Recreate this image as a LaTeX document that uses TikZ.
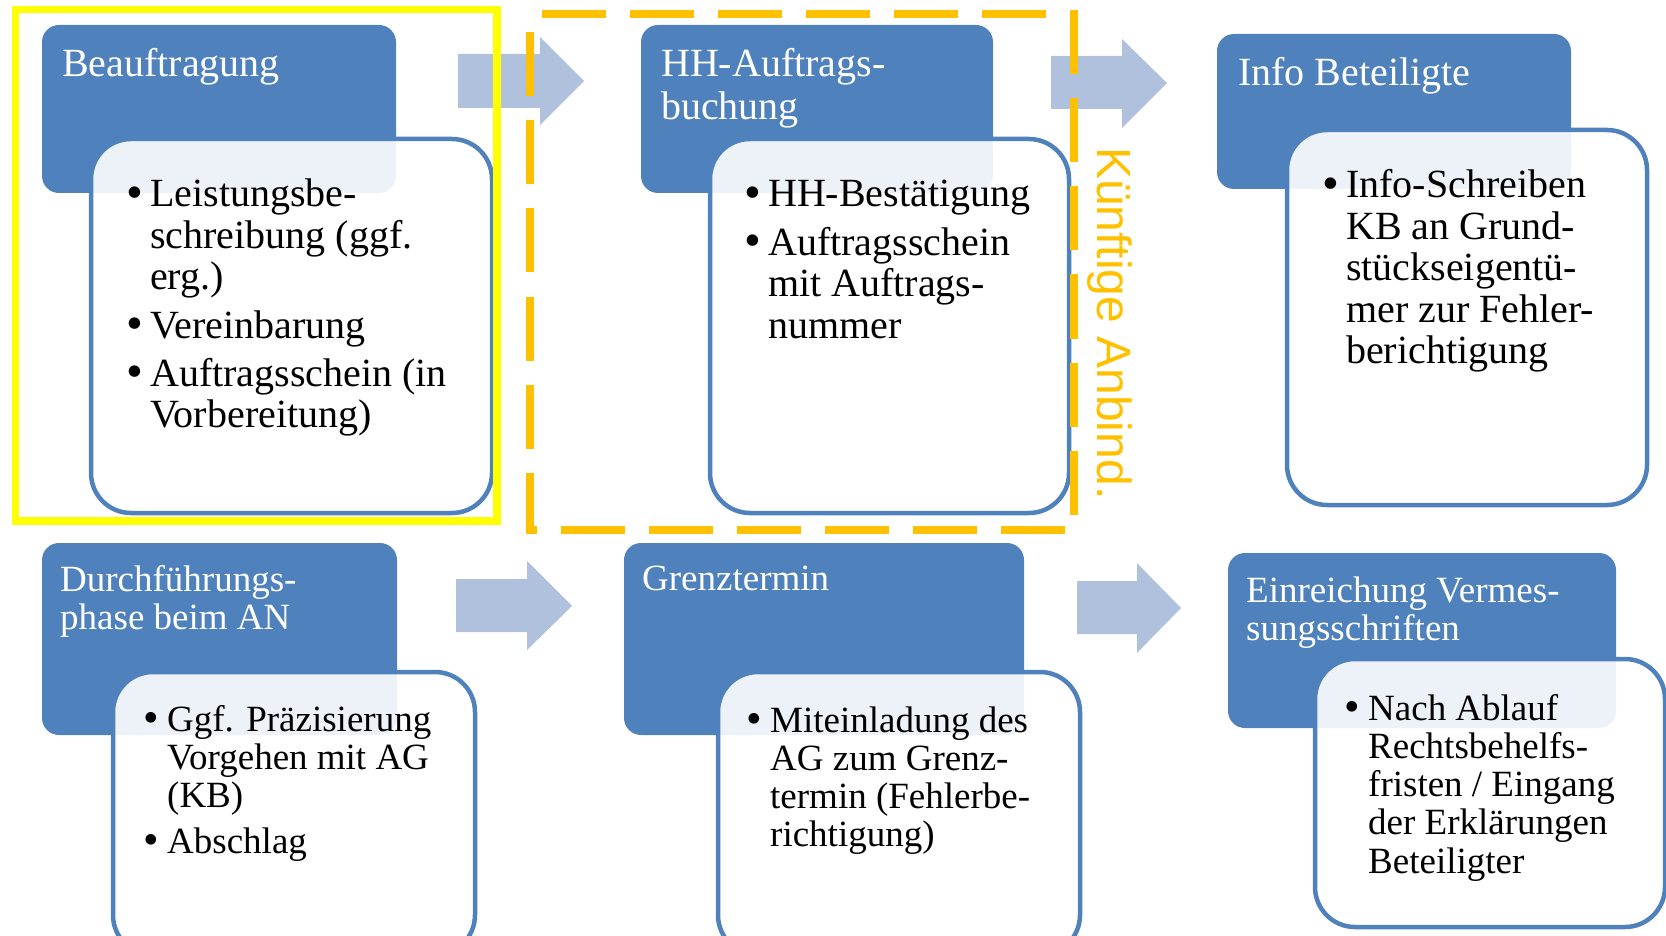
\documentclass[tikz,border=0pt]{standalone}
\usepackage{fontspec}
\setmainfont{Liberation Serif}
\newfontfamily\labelsans{Liberation Sans}

\definecolor{accent}{RGB}{79,129,189}
\definecolor{arrowblue}{RGB}{176,193,221}
\definecolor{markyellow}{RGB}{255,255,0}
\definecolor{markorange}{RGB}{255,192,0}

% bullet with fixed hanging indent
\newcommand{\bitem}{\makebox[18pt][l]{\hspace{-6pt}\raisebox{-1.5pt}{\scalebox{1.2}{\textbullet}}}}

\tikzset{
  stage/.style={fill=accent, rounded corners=17pt, anchor=north west,
                inner sep=0pt, outer sep=0pt},
  detail/.style={draw=accent, line width=4.5pt, fill=white, fill opacity=0.9,
                 rounded corners=40pt, anchor=north west, inner sep=0pt, outer sep=0pt},
  flowarrow/.style={fill=arrowblue},
  titleA/.style={anchor=base west, inner sep=0pt, text=white,
                 font=\fontsize{40}{43}\selectfont},
  titleB/.style={anchor=base west, inner sep=0pt, text=white,
                 font=\fontsize{37}{38.5}\selectfont},
  bodyA/.style={anchor=base west, inner sep=0pt, text=black,
                font=\fontsize{40}{41.5}\selectfont},
  bodyB/.style={anchor=base west, inner sep=0pt, text=black,
                font=\fontsize{37}{38.3}\selectfont},
}

\begin{document}
\begin{tikzpicture}[x=1pt,y=-1pt]
\useasboundingbox (0,0) rectangle (1666,936);
\clip (0,0) rectangle (1666,936);

% block arrows between the stages
\fill[flowarrow] (458,54) -- (540,54) -- (540,37) -- (584,81) -- (540,125) -- (540,108) -- (458,108) -- cycle;
\fill[flowarrow] (1051,56) -- (1122,56) -- (1122,39) -- (1167,83) -- (1122,128) -- (1122,109) -- (1051,109) -- cycle;
\fill[flowarrow] (456,579) -- (527,579) -- (527,561) -- (572,606) -- (527,650) -- (527,632) -- (456,632) -- cycle;
\fill[flowarrow] (1077,581) -- (1137,581) -- (1137,563) -- (1181,608) -- (1137,653) -- (1137,634) -- (1077,634) -- cycle;

% stage 1: Beauftragung
\node[stage, minimum width=354pt, minimum height=168pt] (s1) at (42,25) {};
\node[titleA] (h1) at (62,77) {Beauftragung};
\node[detail, minimum width=401pt, minimum height=374pt] (d1) at (91,139) {};
\node[bodyA] (t1) at (132,207) {\begin{tabular}[t]{@{}l@{}l@{}}
\bitem & Leistungsbe-\\
       & schreibung (ggf.\\
       & erg.)\\[7pt]
\bitem & Vereinbarung\\[6.5pt]
\bitem & Auftragsschein (in\\
       & Vorbereitung)
\end{tabular}};

% stage 2: HH-Auftragsbuchung
\node[stage, minimum width=352pt, minimum height=168pt] (s2) at (641,25) {};
\node[titleA] (h2) at (661,76.5) {\begin{tabular}[t]{@{}l@{}}HH-Auftrags-\\ buchung\end{tabular}};
\node[detail, minimum width=359pt, minimum height=374pt] (d2) at (710,139) {};
\node[bodyA] (t2) at (750,207) {\begin{tabular}[t]{@{}l@{}l@{}}
\bitem & HH-Best\"atigung\\[7pt]
\bitem & Auftragsschein\\
       & mit Auftrags-\\
       & nummer
\end{tabular}};

% stage 3: Info Beteiligte
\node[stage, minimum width=354pt, minimum height=155pt] (s3) at (1217,34) {};
\node[titleA] (h3) at (1238,86) {Info Beteiligte};
\node[detail, minimum width=360pt, minimum height=375pt] (d3) at (1287,130) {};
\node[bodyA] (t3) at (1328,198) {\begin{tabular}[t]{@{}l@{}l@{}}
\bitem & Info-Schreiben\\
       & KB an Grund-\\
       & st\"uckseigent\"u-\\
       & mer zur Fehler-\\
       & berichtigung
\end{tabular}};

% stage 4: Durchfuehrungsphase
\node[stage, minimum width=355pt, minimum height=192pt] (s4) at (42,543) {};
\node[titleB] (h4) at (60,591) {\begin{tabular}[t]{@{}l@{}}Durchf\"uhrungs-\\ phase beim AN\end{tabular}};
\node[detail, minimum width=362pt, minimum height=283pt] (d4) at (113,672) {};
\node[bodyB] (t4) at (149,731) {\begin{tabular}[t]{@{}l@{}l@{}}
\bitem & Ggf. Pr\"azisierung\\
       & Vorgehen mit AG\\
       & (KB)\\[7.5pt]
\bitem & Abschlag
\end{tabular}};

% stage 5: Grenztermin
\node[stage, minimum width=400pt, minimum height=192pt] (s5) at (624,543) {};
\node[titleB] (h5) at (642,590) {Grenztermin};
\node[detail, minimum width=362pt, minimum height=283pt] (d5) at (718,672) {};
\node[bodyB] (t5) at (752,732) {\begin{tabular}[t]{@{}l@{}l@{}}
\bitem & Miteinladung des\\
       & AG zum Grenz-\\
       & termin (Fehlerbe-\\
       & richtigung)
\end{tabular}};

% stage 6: Einreichung Vermessungsschriften
\node[stage, minimum width=388pt, minimum height=175pt] (s6) at (1228,553) {};
\node[titleB] (h6) at (1246,602) {\begin{tabular}[t]{@{}l@{}}Einreichung Vermes-\\ sungsschriften\end{tabular}};
\node[detail, minimum width=350pt, minimum height=268pt] (d6) at (1315,659) {};
\node[bodyB] (t6) at (1350,720) {\begin{tabular}[t]{@{}l@{}l@{}}
\bitem & Nach Ablauf\\
       & Rechtsbehelfs-\\
       & fristen / Eingang\\
       & der Erkl\"arungen\\
       & Beteiligter
\end{tabular}};

% highlight frames
\draw[markyellow, line width=7.5pt] (15.5,9.5) rectangle (497,521);
\draw[markorange, line width=8pt, dash pattern=on 64pt off 24pt, dash phase=76pt]
  (530,14.5) -- (1074,14.5) -- (1074,529.5) -- (530,529.5) -- cycle;
\node[rotate=-90, anchor=base west, inner sep=0pt, text=markorange,
      font=\labelsans\fontsize{48}{48}\selectfont] (future) at (1097,147) {K\"unftige Anbind.};
\end{tikzpicture}
\end{document}
